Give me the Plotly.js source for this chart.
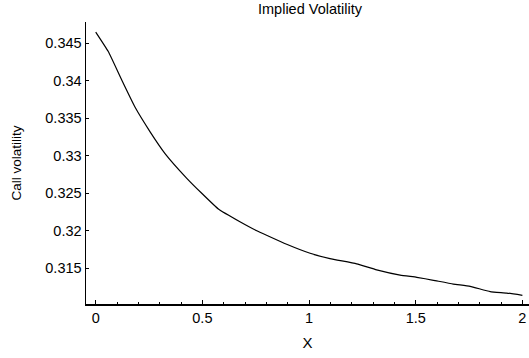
<!DOCTYPE html>
<html>
<head>
<meta charset="utf-8">
<script src="https://cdn.plot.ly/plotly-3.0.1.min.js"></script>
<style>html,body{margin:0;padding:0;background:#fff;}#chart{width:529px;height:358px;}</style>
</head>
<body>
<div id="chart"></div>
<script>
const xValues = [0, 0.059, 0.122, 0.184, 0.255, 0.325, 0.427, 0.497, 0.575, 0.676, 0.755, 0.809, 0.895, 1.005, 1.098, 1.223, 1.317, 1.427, 1.505, 1.583, 1.676, 1.755, 1.849, 1.927, 2.0];
const callVol = [0.3465, 0.3439, 0.3401, 0.3365, 0.3332, 0.3303, 0.3270, 0.3250, 0.3229, 0.3212, 0.3200, 0.3193, 0.3182, 0.3170, 0.3163, 0.3156, 0.3148, 0.3141, 0.3138, 0.3134, 0.3129, 0.3126, 0.3119, 0.3117, 0.3114];
const xTicks = [0, 0.5, 1, 1.5, 2];
const xTickText = ['0', '0.5', '1', '1.5', '2'];
const yTicks = [0.315, 0.32, 0.325, 0.33, 0.335, 0.34, 0.345];
const yTickText = ['0.315', '0.32', '0.325', '0.33', '0.335', '0.34', '0.345'];

const font = {family: 'Liberation Sans, Arial, sans-serif', color: '#000'};
Plotly.newPlot('chart', [{
  x: xValues, y: callVol, type: 'scatter', mode: 'lines',
  line: {color: '#000', width: 1.2, shape: 'spline', smoothing: 0.4}
}], {
  width: 529, height: 358,
  margin: {l: 86, r: 0, t: 22, b: 54},
  paper_bgcolor: '#fff', plot_bgcolor: '#fff',
  showlegend: false,
  font: Object.assign({size: 13}, font),
  title: {text: 'Implied Volatility', x: 0.586, xanchor: 'center', y: 0.975, yanchor: 'middle', font: Object.assign({size: 14.5}, font)},
  xaxis: {
    range: [-0.0455, 2.031], showgrid: false, zeroline: false,
    showline: true, linecolor: '#000', linewidth: 1.5,
    tickmode: 'array', tickvals: xTicks, ticktext: xTickText,
    ticks: 'inside', ticklen: 4, tickcolor: '#000', tickwidth: 1,
    minor: {ticks: 'inside', dtick: 0.1, ticklen: 2, tickcolor: '#000', showgrid: false},
    tickfont: Object.assign({size: 14.5}, font),
    title: {text: 'X', font: Object.assign({size: 15}, font), standoff: 12}
  },
  yaxis: {
    range: [0.31024, 0.34784], showgrid: false, zeroline: false,
    showline: true, linecolor: '#000', linewidth: 1.5,
    tickmode: 'array', tickvals: yTicks, ticktext: yTickText,
    ticks: 'inside', ticklen: 3, tickcolor: '#000', tickwidth: 1,
    tickfont: Object.assign({size: 14.5}, font),
    title: {text: 'Call volatility', font: Object.assign({size: 13.5}, font), standoff: 20}
  }
}, {staticPlot: true, displayModeBar: false});
</script>
</body>
</html>
